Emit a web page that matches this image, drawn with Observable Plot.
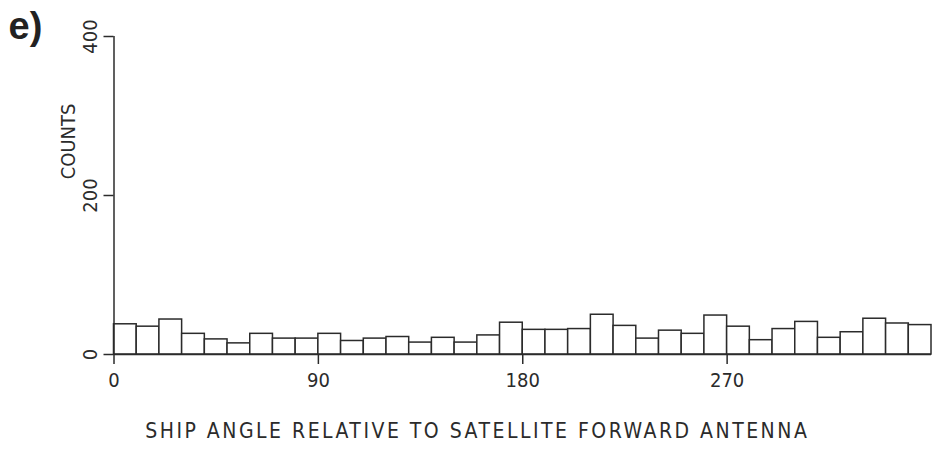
<!DOCTYPE html>
<html>
<head>
<meta charset="utf-8">
<script src="https://cdn.jsdelivr.net/npm/d3@7"></script>
<script src="https://cdn.jsdelivr.net/npm/@observablehq/plot@0.6"></script>
<style>
  html, body { margin: 0; padding: 0; background: #fff; }
  #chart svg { display: block; background: #fff; }
  #chart svg .axis-font text, #chart svg .axis-font { font-stretch: condensed; }
  .wide-label text { letter-spacing: 2.5px; }
</style>
</head>
<body>
<div id="chart"></div>
<script>
// Histogram of ship angle relative to the satellite forward antenna (10° bins)
const binStart = [0, 10, 20, 30, 40, 50, 60, 70, 80, 90, 100, 110,
                  120, 130, 140, 150, 160, 170, 180, 190, 200, 210, 220, 230,
                  240, 250, 260, 270, 280, 290, 300, 310, 320, 330, 340, 350];
const binEnd = [10, 20, 30, 40, 50, 60, 70, 80, 90, 100, 110, 120,
                130, 140, 150, 160, 170, 180, 190, 200, 210, 220, 230, 240,
                250, 260, 270, 280, 290, 300, 310, 320, 330, 340, 350, 360];
const counts = [38, 35, 44, 26, 19, 14, 26, 20, 20, 26, 17, 20,
                22, 15, 21, 15, 24, 40, 31, 31, 32, 50, 36, 20,
                30, 26, 49, 35, 18, 32, 41, 21, 28, 45, 39, 37];

const xTicks = [0, 90, 180, 270];
const yTicks = [0, 200, 400];

const panelLabel = "e)";
const xLabel = "SHIP ANGLE RELATIVE TO SATELLITE FORWARD ANTENNA";
const yLabel = "COUNTS";

const bins = binStart.map((s, i) => ({start: s, end: binEnd[i], count: counts[i]}));

const ink = "#2b2b2b";
const plotFont = "'DejaVu Sans Condensed', 'DejaVu Sans', sans-serif";

const chart = Plot.plot({
  width: 936,
  height: 453,
  marginLeft: 113.5,
  marginRight: 5,
  marginTop: 36,
  marginBottom: 99,
  style: {fontFamily: plotFont, color: ink, background: "#fff"},
  x: {domain: [0, 360], axis: null},
  y: {domain: [0, 400], axis: null},
  marks: [
    // bars
    Plot.rectY(bins, {x1: "start", x2: "end", y: "count", fill: "white", stroke: ink, strokeWidth: 1.5}),
    // axis lines
    Plot.ruleX([0], {y1: 0, y2: 400, stroke: ink, strokeWidth: 1.5}),
    Plot.ruleY([0], {x1: 0, x2: 360, stroke: ink, strokeWidth: 1.5}),
    // x ticks and labels
    Plot.axisX({ticks: xTicks, tickSize: 10, tickPadding: 8, fontSize: 20, stroke: ink, strokeWidth: 1.5,
                tickFormat: d => String(d), label: null, fill: ink, className: "axis-font"}),
    // y ticks (labels drawn rotated below)
    Plot.axisY({ticks: yTicks, tickSize: 10, tickFormat: () => "", label: null, stroke: ink, strokeWidth: 1.5}),
    Plot.text(yTicks, {x: 0, y: d => d, text: d => String(d), rotate: -90, dx: -23,
                       fontSize: 20, fill: ink, className: "axis-font"}),
    // axis titles
    Plot.text([yLabel], {frameAnchor: "top-left", rotate: -90, dx: -53.5, dy: 67, textAnchor: "end",
                         fontSize: 20, fill: ink, className: "axis-font"}),
    Plot.text([xLabel], {frameAnchor: "bottom", dx: -45.5, dy: 83, fontSize: 21, fill: ink,
                         className: "axis-font wide-label"}),
    // panel letter
    Plot.text([panelLabel], {frameAnchor: "top-left", dx: -105.5, dy: 2, textAnchor: "start",
                             lineAnchor: "bottom", fontSize: 38, fontWeight: "bold",
                             fontFamily: "'Liberation Sans', Arial, sans-serif", fill: "#222"})
  ]
});

document.getElementById("chart").appendChild(chart);
</script>
</body>
</html>
